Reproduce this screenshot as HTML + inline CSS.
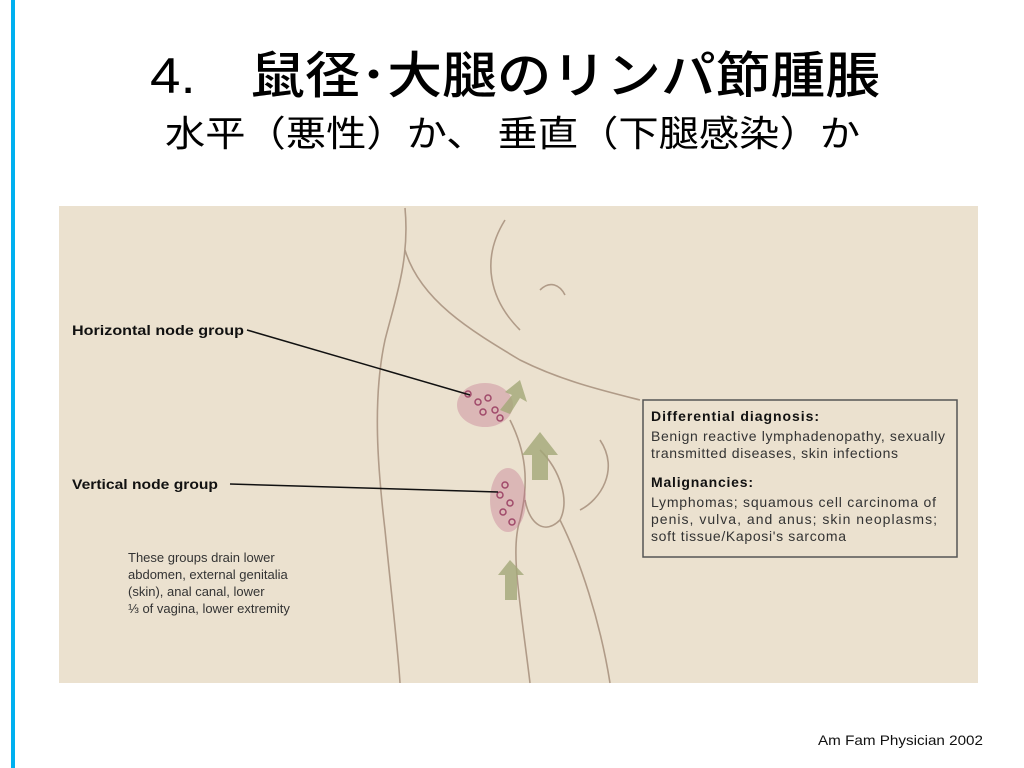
<!DOCTYPE html>
<html><head><meta charset="utf-8"><style>
html,body{margin:0;padding:0;width:1024px;height:768px;overflow:hidden;background:#fff;}
svg{display:block}
</style></head><body>
<svg width="1024" height="768" xmlns="http://www.w3.org/2000/svg" font-family="'Liberation Sans','Noto Sans CJK JP',sans-serif">
<rect x="11" y="0" width="4" height="768" fill="#00b0f0"/>
<text x="150" y="93" font-size="50" font-weight="500" fill="#000" textLength="730" lengthAdjust="spacingAndGlyphs">4.　鼠径･大腿のリンパ節腫脹</text>
<text x="165" y="146" font-size="36" fill="#000" textLength="695" lengthAdjust="spacingAndGlyphs">水平（悪性）か、 垂直（下腿感染）か</text>
<rect x="59" y="206" width="919" height="477" fill="#ebe1cf"/>
<g fill="none" stroke="#8a6e5a" stroke-width="1.6" opacity="0.6">
<path d="M405 208 C410 260 395 300 385 340 C372 400 378 470 385 530 C392 600 398 650 400 683"/>
<path d="M405 250 C420 300 470 330 520 360 C560 380 600 390 640 400"/>
<path d="M505 220 C480 260 490 300 520 330"/>
<path d="M540 290 C550 280 560 285 565 295"/>
<path d="M510 420 C525 450 530 480 520 520 C510 550 520 600 530 683"/>
<path d="M540 450 C560 470 570 500 560 520 C545 535 530 525 525 500"/>
<path d="M560 520 C580 560 600 620 610 683"/>
<path d="M600 440 C620 470 600 500 580 510"/>
</g>
<g fill="#c06a8a" opacity="0.35">
<ellipse cx="485" cy="405" rx="28" ry="22"/>
<ellipse cx="508" cy="500" rx="18" ry="32"/>
</g>
<g fill="none" stroke="#a04a6a" stroke-width="1.5">
<circle cx="468" cy="394" r="3"/><circle cx="478" cy="402" r="3"/><circle cx="488" cy="398" r="3"/><circle cx="495" cy="410" r="3"/><circle cx="483" cy="412" r="3"/><circle cx="500" cy="418" r="3"/>
<circle cx="505" cy="485" r="3"/><circle cx="500" cy="495" r="3"/><circle cx="510" cy="503" r="3"/><circle cx="503" cy="512" r="3"/><circle cx="512" cy="522" r="3"/>
</g>
<g fill="#a3a878" opacity="0.8">
<path d="M520 380 L505 392 L512 395 L500 410 L510 414 L520 398 L527 402 Z"/>
<path d="M540 432 L522 455 L532 455 L532 480 L548 480 L548 455 L558 455 Z"/>
<path d="M510 560 L498 575 L505 575 L505 600 L517 600 L517 575 L524 575 Z"/>
</g>
<text x="72" y="335" font-size="14" font-weight="bold" fill="#111" textLength="172" lengthAdjust="spacingAndGlyphs">Horizontal node group</text>
<path d="M247 330 L470 395" stroke="#111" stroke-width="1.5"/>
<text x="72" y="489" font-size="14" font-weight="bold" fill="#111" textLength="146" lengthAdjust="spacingAndGlyphs">Vertical node group</text>
<path d="M230 484 L498 492" stroke="#111" stroke-width="1.5"/>
<g font-size="13" fill="#333">
<text x="128" y="562">These groups drain lower</text>
<text x="128" y="579">abdomen, external genitalia</text>
<text x="128" y="596">(skin), anal canal, lower</text>
<text x="128" y="613">⅓ of vagina, lower extremity</text>
</g>
<rect x="643" y="400" width="314" height="157" fill="#ebe1cf" stroke="#555" stroke-width="1.5"/>
<g font-size="14" fill="#333" lengthAdjust="spacingAndGlyphs">
<text x="651" y="421" font-weight="bold" fill="#111" textLength="168">Differential diagnosis:</text>
<text x="651" y="441" textLength="294">Benign reactive lymphadenopathy, sexually</text>
<text x="651" y="458" textLength="247">transmitted diseases, skin infections</text>
<text x="651" y="487" font-weight="bold" fill="#111" textLength="102">Malignancies:</text>
<text x="651" y="507" textLength="285">Lymphomas; squamous cell carcinoma of</text>
<text x="651" y="524" textLength="286">penis, vulva, and anus; skin neoplasms;</text>
<text x="651" y="541" textLength="195">soft tissue/Kaposi's sarcoma</text>
</g>
<text x="983" y="745" text-anchor="end" font-size="14" fill="#111" textLength="165" lengthAdjust="spacingAndGlyphs">Am Fam Physician 2002</text>
</svg>
</body></html>
